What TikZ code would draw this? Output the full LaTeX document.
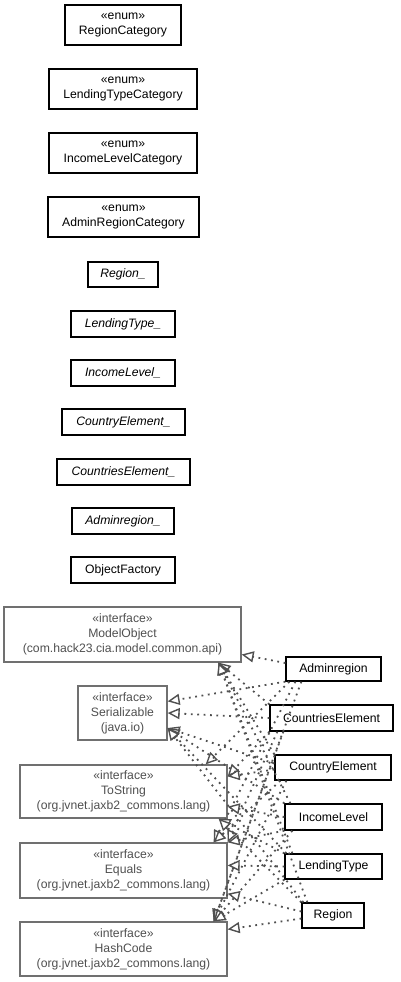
\documentclass[tikz,border=0pt]{standalone}
\usepackage{fontspec}
\setmainfont{Liberation Sans}
\usetikzlibrary{arrows.meta}
\definecolor{ifborder}{HTML}{707070}
\definecolor{iftext}{HTML}{505050}
\definecolor{edgecol}{HTML}{505050}
\begin{document}
\begin{tikzpicture}[x=1pt,y=-1pt,
  every node/.style={font=\fontsize{12.2}{15}\selectfont, inner sep=0pt, align=center},
  cls/.style={draw=black, line width=1.3pt, fill=white, rectangle},
  ifc/.style={draw=ifborder, line width=1.3pt, fill=white, rectangle, text=iftext},
  impl/.style={draw=edgecol, line width=1.8pt, dash pattern=on 1.8pt off 4.6pt,
    -{Triangle[open, length=12pt, width=11pt, line width=1.4pt, fill=white, color=edgecol]}}
]
\useasboundingbox (0,0) rectangle (401,982);
% enums
\node[cls, minimum width=116pt, minimum height=40pt] (rc) at (123,25) {«enum»\\RegionCategory};
\node[cls, minimum width=148pt, minimum height=40pt] (ltc) at (123,89) {«enum»\\LendingTypeCategory};
\node[cls, minimum width=148pt, minimum height=40pt] (ilc) at (123,153) {«enum»\\IncomeLevelCategory};
\node[cls, minimum width=151pt, minimum height=40pt] (arc) at (123.5,217) {«enum»\\AdminRegionCategory};
% abstract / metamodel classes
\node[cls, minimum width=70pt, minimum height=25pt, font=\fontsize{12.2}{15}\selectfont\itshape] (r_) at (123,274.5) {Region\_};
\node[cls, minimum width=104pt, minimum height=26pt, font=\fontsize{12.2}{15}\selectfont\itshape] (lt_) at (123,324) {LendingType\_};
\node[cls, minimum width=104pt, minimum height=26pt, font=\fontsize{12.2}{15}\selectfont\itshape] (il_) at (123,373) {IncomeLevel\_};
\node[cls, minimum width=123pt, minimum height=26pt, font=\fontsize{12.2}{15}\selectfont\itshape] (coe_) at (123.5,422) {CountryElement\_};
\node[cls, minimum width=133pt, minimum height=26pt, font=\fontsize{12.2}{15}\selectfont\itshape] (cse_) at (123.5,472) {CountriesElement\_};
\node[cls, minimum width=102pt, minimum height=26pt, font=\fontsize{12.2}{15}\selectfont\itshape] (ar_) at (123,521) {Adminregion\_};
\node[cls, minimum width=104pt, minimum height=26pt] (of) at (123,570) {ObjectFactory};
% interfaces
\node[ifc, minimum width=237pt, minimum height=55pt] (mo) at (122.5,634.5) {«interface»\\ModelObject\\(com.hack23.cia.model.common.api)};
\node[ifc, minimum width=89pt, minimum height=54pt] (ser) at (122.5,713) {«interface»\\Serializable\\(java.io)};
\node[ifc, minimum width=207pt, minimum height=53pt] (ts) at (123.5,791.5) {«interface»\\ToString\\(org.jvnet.jaxb2\_commons.lang)};
\node[ifc, minimum width=207pt, minimum height=55pt] (eq) at (123.5,870.5) {«interface»\\Equals\\(org.jvnet.jaxb2\_commons.lang)};
\node[ifc, minimum width=207pt, minimum height=54pt] (hc) at (123.5,949) {«interface»\\HashCode\\(org.jvnet.jaxb2\_commons.lang)};
% classes
\node[cls, minimum width=95pt, minimum height=24pt] (ad) at (333.5,669) {Adminregion};
\node[cls, minimum width=123pt, minimum height=26pt] (cse) at (331.5,718) {CountriesElement};
\node[cls, minimum width=116pt, minimum height=25pt] (coe) at (333,767.5) {CountryElement};
\node[cls, minimum width=97pt, minimum height=26pt] (il) at (333.5,817) {IncomeLevel};
\node[cls, minimum width=97pt, minimum height=25pt] (lt) at (333.5,866.5) {LendingType};
\node[cls, minimum width=62pt, minimum height=25pt] (rg) at (333,915.5) {Region};
% Adminregion
\draw[impl] ([yshift=6pt]ad.west) -- ([yshift=-20pt]mo.east);
\draw[impl] (ad.south west) -- ([yshift=-16pt]ser.north east);
\draw[impl] ([xshift=4pt]ad.south west) -- ([xshift=-22pt]ts.north east);
\draw[impl] ([xshift=10pt]ad.south west) -- ([xshift=-14pt]eq.north east);
\draw[impl] ([xshift=16pt]ad.south west) -- ([xshift=-14pt]hc.north east);
% CountriesElement
\draw[impl] (cse.north west) -- ([xshift=96pt]mo.south);
\draw[impl] (cse.west) -- (ser.east);
\draw[impl] (cse.south west) -- ([yshift=-12pt]ts.north east);
\draw[impl] ([xshift=8pt]cse.south west) -- (eq.north east);
\draw[impl] ([xshift=14pt]cse.south west) -- ([xshift=-14pt]hc.north east);
% CountryElement
\draw[impl] (coe.north west) -- ([xshift=96pt]mo.south);
\draw[impl] ([yshift=4pt]coe.west) -- ([yshift=-15pt]ser.east);
\draw[impl] ([yshift=-2pt]coe.west) -- ([yshift=-12pt]ts.north east);
\draw[impl] ([xshift=6pt]coe.south west) -- ([xshift=-14pt]eq.north east);
\draw[impl] ([xshift=12pt]coe.south west) -- ([xshift=-14pt]hc.north east);
% IncomeLevel
\draw[impl] ([xshift=6pt]il.north west) -- ([xshift=96pt]mo.south);
\draw[impl] (il.north west) -- ([yshift=-15pt]ser.east);
\draw[impl] (il.west) -- ([yshift=12pt]ts.south east);
\draw[impl] (il.south west) -- (eq.north east);
\draw[impl] ([xshift=8pt]il.south west) -- ([xshift=-14pt]hc.north east);
% LendingType
\draw[impl] ([xshift=8pt]lt.north west) -- ([xshift=96pt]mo.south);
\draw[impl] ([xshift=2pt]lt.north west) -- ([yshift=-15pt]ser.east);
\draw[impl] (lt.north west) -- ([xshift=-9pt]ts.south east);
\draw[impl] (lt.west) -- ([yshift=-23pt]eq.north east);
\draw[impl] (lt.south west) -- ([xshift=-14pt]hc.north east);
% Region
\draw[impl] ([xshift=6pt]rg.north west) -- ([xshift=96pt]mo.south);
\draw[impl] ([xshift=2pt]rg.north west) -- ([yshift=-15pt]ser.east);
\draw[impl] (rg.north west) -- ([xshift=-9pt]ts.south east);
\draw[impl] ([yshift=4pt]rg.west) -- ([yshift=5pt]eq.south east);
\draw[impl] ([yshift=-3pt]rg.west) -- ([yshift=-8pt]hc.north east);
\end{tikzpicture}
\end{document}
